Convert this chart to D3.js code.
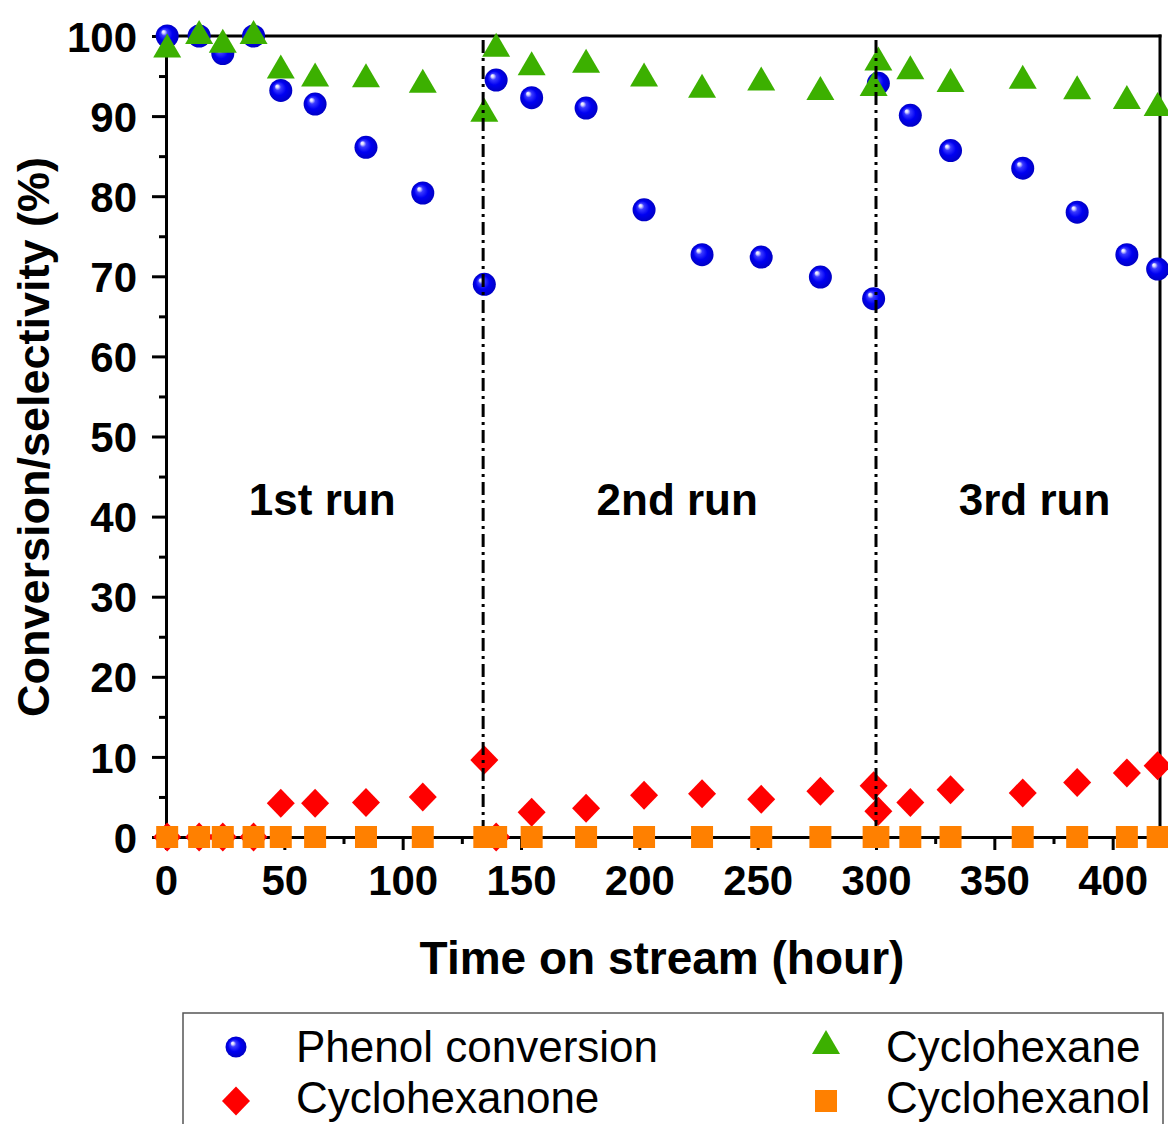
<!DOCTYPE html>
<html>
<head>
<meta charset="utf-8">
<script src="https://cdn.jsdelivr.net/npm/d3@7"></script>
<style>
  html, body { margin: 0; padding: 0; background: #ffffff; }
  svg { display: block; }
  text { font-family: "Liberation Sans", Arial, sans-serif; }
</style>
</head>
<body>
<svg id="chart" width="1168" height="1124"></svg>
<script>
// ---- data ----
const times = [0.5, 14, 24, 37, 48.5, 63, 84.5, 108.5, 134.5, 139.5, 154.5, 177.5,
               202, 226.5, 251.5, 276.5, 299, 301, 314.5, 331.5, 362, 385, 406, 419];
const phenolConversion = [100, 100, 97.8, 100, 93.2, 91.5, 86.1, 80.4, 69.0, 94.5, 92.3, 91.0,
                          78.3, 72.7, 72.4, 69.9, 67.2, 94.1, 90.1, 85.7, 83.5, 78.0, 72.7, 70.9];
const cyclohexane = [98.3, 100, 98.9, 100, 95.7, 94.7, 94.6, 93.9, 90.3, 98.4, 96.1, 96.4,
                     94.7, 93.3, 94.2, 93.0, 93.5, 96.7, 95.6, 94.0, 94.4, 93.1, 91.9, 91.0];
const cyclohexanone = [0, 0, 0, 0, 4.2, 4.2, 4.3, 5.0, 9.6, 0, 3.1, 3.6,
                       5.2, 5.4, 4.7, 5.7, 6.4, 3.2, 4.3, 5.9, 5.5, 6.8, 8.0, 8.9];
const cyclohexanol = [0, 0, 0, 0, 0, 0, 0, 0, 0, 0, 0, 0,
                      0, 0, 0, 0, 0, 0, 0, 0, 0, 0, 0, 0];
const runBoundaries = [134, 300];
const runLabels = [{t: 66, label: "1st run"}, {t: 216, label: "2nd run"}, {t: 367, label: "3rd run"}];
const xTicks = [0, 50, 100, 150, 200, 250, 300, 350, 400];
const xMinorTicks = [25, 75, 125, 175, 225, 275, 325, 375];
const yTicks = [0, 10, 20, 30, 40, 50, 60, 70, 80, 90, 100];
const yMinorTicks = [5, 15, 25, 35, 45, 55, 65, 75, 85, 95];
const xTitle = "Time on stream (hour)";
const yTitle = "Conversion/selectivity (%)";
const legendNames = ["Phenol conversion", "Cyclohexanone", "Cyclohexane", "Cyclohexanol"];

// ---- layout ----
const svg = d3.select("#chart");
const x = d3.scaleLinear().domain([0, 420]).range([166, 1160]);
const y = d3.scaleLinear().domain([0, 100]).range([837, 36]);

const defs = svg.append("defs");
const grad = defs.append("radialGradient").attr("id", "sphere")
  .attr("cx", "50%").attr("cy", "50%").attr("r", "50%").attr("fx", "32%").attr("fy", "30%");
[["0%", "#ffffff"], ["12%", "#d8d8ff"], ["28%", "#3a3aff"], ["60%", "#0000f2"], ["100%", "#0000c4"]]
  .forEach(([o, c]) => grad.append("stop").attr("offset", o).attr("stop-color", c));

const colors = { tri: "#3cb000", dia: "#ff0000", sq: "#ff8000" };
const triPath = "M0,-16L14,8L-14,8Z";
const diaPath = "M0,-14.5L14,0L0,14.5L-14,0Z";

// axes
const axisColor = "#000";
function styleAxis(g) {
  g.selectAll("path.domain").attr("stroke", axisColor).attr("stroke-width", 3);
  g.selectAll(".tick line").attr("stroke", axisColor).attr("stroke-width", 3);
  g.selectAll(".tick text").attr("fill", "#000").attr("font-size", 42).attr("font-weight", "bold")
    .attr("font-family", "'Liberation Sans', Arial, sans-serif");
}
const gx = svg.append("g").attr("transform", `translate(0,${y(0)})`)
  .call(d3.axisBottom(x).tickValues(xTicks).tickSize(13).tickSizeOuter(0).tickPadding(15).tickFormat(d3.format("d")));
styleAxis(gx);
const gxm = svg.append("g").attr("transform", `translate(0,${y(0)})`)
  .call(d3.axisBottom(x).tickValues(xMinorTicks).tickSize(7).tickSizeOuter(0).tickFormat(""));
styleAxis(gxm);
const gy = svg.append("g").attr("transform", `translate(${x(0)},0)`)
  .call(d3.axisLeft(y).tickValues(yTicks).tickSize(14).tickSizeOuter(0).tickPadding(15).tickFormat(d3.format("d")));
styleAxis(gy);
gy.selectAll(".tick text").attr("dy", "0.36em");
const gym = svg.append("g").attr("transform", `translate(${x(0)},0)`)
  .call(d3.axisLeft(y).tickValues(yMinorTicks).tickSize(7).tickSizeOuter(0).tickFormat(""));
styleAxis(gym);

// frame top and right
svg.append("line").attr("x1", x(0)).attr("x2", x(420)).attr("y1", y(100)).attr("y2", y(100))
  .attr("stroke", "#000").attr("stroke-width", 3).attr("stroke-linecap", "square");
svg.append("line").attr("x1", x(420)).attr("x2", x(420)).attr("y1", y(100)).attr("y2", y(0))
  .attr("stroke", "#000").attr("stroke-width", 3).attr("stroke-linecap", "square");

// titles
svg.append("text").attr("x", 662).attr("y", 974).attr("text-anchor", "middle")
  .attr("font-size", 46).attr("font-weight", "bold").text(xTitle);
svg.append("text").attr("transform", `translate(49,437) rotate(-90)`).attr("text-anchor", "middle")
  .attr("font-size", 45).attr("font-weight", "bold").text(yTitle);

// run labels
svg.selectAll("text.run").data(runLabels).join("text").attr("class", "run")
  .attr("x", d => x(d.t)).attr("y", 515).attr("text-anchor", "middle")
  .attr("font-size", 44).attr("font-weight", "bold").text(d => d.label);

// markers
const pts = (vals) => times.map((t, i) => ({ t, v: vals[i] }));

svg.append("g").selectAll("circle").data(pts(phenolConversion)).join("circle")
  .attr("cx", d => x(d.t)).attr("cy", d => y(d.v)).attr("r", 11.5).attr("fill", "url(#sphere)");

svg.append("g").selectAll("path").data(pts(cyclohexane)).join("path")
  .attr("d", triPath).attr("transform", d => `translate(${x(d.t)},${y(d.v)})`).attr("fill", colors.tri);

svg.append("g").selectAll("path").data(pts(cyclohexanone)).join("path")
  .attr("d", diaPath).attr("transform", d => `translate(${x(d.t)},${y(d.v)})`).attr("fill", colors.dia);

// run boundary lines
svg.append("g").selectAll("line").data(runBoundaries).join("line")
  .attr("x1", d => x(d)).attr("x2", d => x(d)).attr("y1", y(99.5)).attr("y2", y(0))
  .attr("stroke", "#000").attr("stroke-width", 3).attr("stroke-dasharray", "13,5,3,5");

svg.append("g").selectAll("rect").data(pts(cyclohexanol)).join("rect")
  .attr("x", d => x(d.t) - 11).attr("y", d => y(d.v) - 11).attr("width", 22).attr("height", 22)
  .attr("fill", colors.sq);

// legend
const lg = svg.append("g");
lg.append("rect").attr("x", 183).attr("y", 1013).attr("width", 980).attr("height", 140)
  .attr("fill", "#fff").attr("stroke", "#555").attr("stroke-width", 1.5);
const legendItems = [
  { name: legendNames[0], mx: 236, my: 1047, ty: 1062, type: "circle" },
  { name: legendNames[1], mx: 236, my: 1101, ty: 1113, type: "dia" },
  { name: legendNames[2], mx: 826, my: 1046, ty: 1062, type: "tri" },
  { name: legendNames[3], mx: 826, my: 1101, ty: 1113, type: "sq" }
];
legendItems.forEach(it => {
  if (it.type === "circle") {
    lg.append("circle").attr("cx", it.mx).attr("cy", it.my).attr("r", 10.5).attr("fill", "url(#sphere)");
  } else if (it.type === "dia") {
    lg.append("path").attr("d", diaPath).attr("transform", `translate(${it.mx},${it.my})`).attr("fill", colors.dia);
  } else if (it.type === "tri") {
    lg.append("path").attr("d", triPath).attr("transform", `translate(${it.mx},${it.my})`).attr("fill", colors.tri);
  } else {
    lg.append("rect").attr("x", it.mx - 11).attr("y", it.my - 11).attr("width", 22).attr("height", 22).attr("fill", colors.sq);
  }
  lg.append("text").attr("x", it.mx + 60).attr("y", it.ty).attr("font-size", 44)
    .attr("fill", "#000").text(it.name);
});
</script>
</body>
</html>
